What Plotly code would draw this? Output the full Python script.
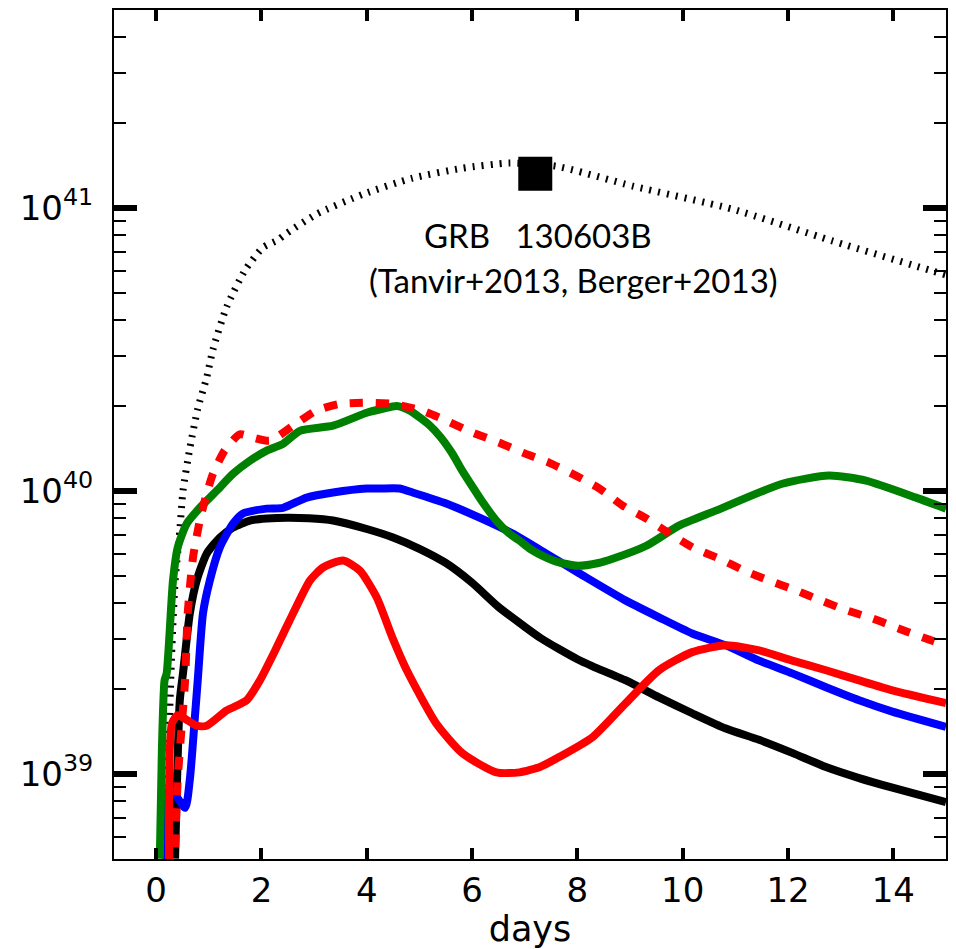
import plotly.graph_objects as go

# ---- data (days, log10 luminosity) ----
dot_x = [0.17, 0.22, 0.30, 0.36, 0.45, 0.51, 0.64, 0.79, 0.96, 1.08, 1.34, 1.69, 2.03, 2.3, 2.48, 3.05, 3.93, 4.87, 5.82, 6.7, 7.6, 9.05, 10.95, 12.84, 14.74, 15.0]
dot_y = [38.70, 39.00, 39.45, 39.68, 39.86, 40.00, 40.15, 40.29, 40.40, 40.50, 40.65, 40.78, 40.86, 40.885, 40.91, 40.978, 41.048, 41.105, 41.140, 41.158, 41.147, 41.077, 40.995, 40.883, 40.777, 40.763]

blk_x = [0.36, 0.45, 0.51, 0.64, 0.77, 0.96, 1.21, 1.46, 1.78, 2.1, 2.5, 2.9, 3.36, 4.0, 4.5, 5.0, 5.5, 6.0, 6.5, 7.0, 7.3, 7.66, 8.0, 8.29, 8.92, 9.55, 10.18, 10.82, 11.45, 12.08, 12.72, 13.35, 14.0, 15.0]
blk_y = [38.70, 39.26, 39.355, 39.567, 39.683, 39.778, 39.835, 39.870, 39.895, 39.902, 39.905, 39.903, 39.895, 39.865, 39.835, 39.795, 39.745, 39.675, 39.59, 39.52, 39.48, 39.44, 39.405, 39.38, 39.33, 39.27, 39.214, 39.16, 39.12, 39.074, 39.024, 38.985, 38.95, 38.9]

blu_x = [0.22, 0.26, 0.55, 0.64, 0.74, 0.79, 0.89, 1.02, 1.21, 1.46, 1.65, 2.1, 2.41, 2.86, 3.36, 4.0, 4.25, 4.62, 4.87, 5.51, 6.14, 6.77, 7.41, 8.04, 8.92, 9.55, 10.18, 10.82, 11.45, 12.08, 12.72, 13.35, 13.98, 15.0]
blu_y = [38.60, 38.95, 38.88, 38.98, 39.21, 39.33, 39.567, 39.683, 39.80, 39.884, 39.92, 39.937, 39.94, 39.976, 39.994, 40.008, 40.008, 40.008, 39.994, 39.955, 39.905, 39.849, 39.778, 39.708, 39.612, 39.553, 39.496, 39.454, 39.40, 39.355, 39.306, 39.26, 39.22, 39.166]

red_x = [0.25, 0.30, 0.41, 0.77, 0.96, 1.34, 1.72, 1.97, 2.29, 2.6, 2.92, 3.17, 3.55, 3.87, 4.19, 4.49, 4.76, 5.32, 5.82, 6.46, 6.9, 7.3, 7.66, 8.29, 8.92, 9.55, 10.18, 10.82, 11.45, 12.08, 12.72, 13.35, 13.98, 15.0]
red_y = [38.60, 39.178, 39.207, 39.17, 39.17, 39.224, 39.26, 39.33, 39.447, 39.567, 39.683, 39.729, 39.754, 39.718, 39.623, 39.48, 39.366, 39.178, 39.072, 39.005, 39.005, 39.025, 39.06, 39.13, 39.25, 39.366, 39.43, 39.454, 39.436, 39.40, 39.366, 39.33, 39.295, 39.25]

grn_x = [0.07, 0.11, 0.16, 0.20, 0.32, 0.41, 0.58, 0.83, 1.15, 1.46, 1.78, 2.1, 2.41, 2.73, 3.36, 4.0, 4.3, 4.57, 4.8, 5.0, 5.19, 5.4, 5.63, 5.8, 6.02, 6.2, 6.46, 6.7, 6.9, 7.1, 7.41, 7.6, 8.0, 8.4, 8.67, 9.31, 9.93, 10.63, 11.89, 12.78, 13.48, 14.43, 15.0]
grn_y = [38.70, 39.09, 39.33, 39.355, 39.683, 39.80, 39.884, 39.94, 40.0, 40.06, 40.106, 40.142, 40.166, 40.212, 40.23, 40.276, 40.29, 40.30, 40.285, 40.26, 40.232, 40.19, 40.13, 40.075, 40.011, 39.96, 39.895, 39.85, 39.824, 39.795, 39.764, 39.75, 39.735, 39.745, 39.76, 39.806, 39.877, 39.93, 40.025, 40.054, 40.036, 39.976, 39.937]

rdd_x = [0.36, 0.41, 0.49, 0.55, 0.60, 0.70, 0.83, 0.96, 1.08, 1.3, 1.59, 1.84, 2.16, 2.6, 3.04, 3.48, 4.05, 4.49, 5.06, 5.51, 6.02, 6.52, 6.96, 7.47, 7.98, 8.42, 8.86, 9.31, 9.75, 10.19, 10.7, 11.17, 11.64, 12.15, 12.63, 13.12, 13.6, 14.11, 14.62, 15.0]
rdd_y = [38.74, 38.98, 39.18, 39.33, 39.567, 39.764, 39.895, 39.99, 40.06, 40.142, 40.2, 40.188, 40.177, 40.23, 40.283, 40.307, 40.311, 40.307, 40.283, 40.248, 40.205, 40.17, 40.135, 40.099, 40.053, 40.008, 39.948, 39.902, 39.849, 39.80, 39.76, 39.718, 39.683, 39.648, 39.612, 39.577, 39.549, 39.513, 39.478, 39.454]

grb_x = [7.2]
grb_y = [41.12]

ytick_vals = [39, 40, 41]
ytick_text = ["10<sup>39</sup>", "10<sup>40</sup>", "10<sup>41</sup>"]
xtick_vals = [0, 2, 4, 6, 8, 10, 12, 14]

def lin(v):
    return [10.0 ** t for t in v]

fig = go.Figure()
fig.add_trace(go.Scatter(x=dot_x, y=lin(dot_y), mode="lines",
                         line=dict(color="black", width=7, dash="2px,7px", shape="spline", smoothing=0.6)))
fig.add_trace(go.Scatter(x=blk_x, y=lin(blk_y), mode="lines",
                         line=dict(color="black", width=8, shape="spline", smoothing=0.6)))
fig.add_trace(go.Scatter(x=blu_x, y=lin(blu_y), mode="lines",
                         line=dict(color="#0000ff", width=8, shape="spline", smoothing=0.6)))
fig.add_trace(go.Scatter(x=red_x, y=lin(red_y), mode="lines",
                         line=dict(color="#ff0000", width=8, shape="spline", smoothing=0.6)))
fig.add_trace(go.Scatter(x=grn_x, y=lin(grn_y), mode="lines",
                         line=dict(color="#008000", width=8, shape="spline", smoothing=0.6)))
fig.add_trace(go.Scatter(x=rdd_x, y=lin(rdd_y), mode="lines",
                         line=dict(color="#ff0000", width=8, dash="13px,13px", shape="spline", smoothing=0.6)))
fig.add_trace(go.Scatter(x=grb_x, y=lin(grb_y), mode="markers",
                         marker=dict(symbol="square", size=34, color="black")))

fig.add_annotation(x=7.26, y=40.903, xref="x", yref="y", text="GRB\u00a0\u00a0\u00a0130603B",
                   showarrow=False, font=dict(family="Lato", size=33, color="black"))
fig.add_annotation(x=7.93, y=40.745, xref="x", yref="y", text="(Tanvir+2013, Berger+2013)",
                   showarrow=False, font=dict(family="Lato", size=33, color="black"))

fig.update_layout(
    width=956, height=949,
    margin=dict(l=114, r=9, t=8, b=90),
    paper_bgcolor="white", plot_bgcolor="white",
    showlegend=False,
    font=dict(family="DejaVu Sans", color="black", size=34),
)
fig.update_xaxes(
    range=[-0.8, 15], tickvals=xtick_vals, ticks="inside", ticklen=11, tickwidth=4,
    tickcolor="black", showline=True, linewidth=2, linecolor="black", mirror="ticks",
    showgrid=False, zeroline=False, tickfont=dict(size=34),
    title=dict(text="days", font=dict(size=35), standoff=4),
)
fig.update_yaxes(
    type="log", range=[38.699, 41.699], tickvals=lin(ytick_vals), ticktext=ytick_text,
    ticks="inside", ticklen=23, tickwidth=6, tickcolor="black",
    showline=True, linewidth=2, linecolor="black", mirror="ticks",
    showgrid=False, zeroline=False, tickfont=dict(size=34), ticklabelstandoff=12,
    minor=dict(dtick="D1", ticks="inside", ticklen=12, tickwidth=2, tickcolor="black", showgrid=False),
)

fig.write_html("out.html")
